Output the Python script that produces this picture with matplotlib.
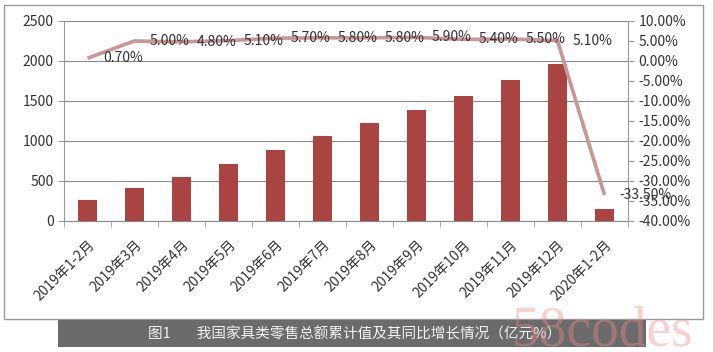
import matplotlib
matplotlib.use("Agg")
import matplotlib.pyplot as plt
from matplotlib.patches import Rectangle
from matplotlib.ticker import FuncFormatter, MultipleLocator, FixedLocator
import numpy as np

plt.rcParams['font.family'] = ['Noto Sans CJK SC', 'DejaVu Sans']

categories = ["2019年1-2月", "2019年3月", "2019年4月", "2019年5月", "2019年6月", "2019年7月",
              "2019年8月", "2019年9月", "2019年10月", "2019年11月", "2019年12月", "2020年1-2月"]
retail_values = [262, 408, 550, 712, 891, 1062, 1221, 1387, 1562, 1758, 1966, 146]
growth_pct = [0.70, 5.00, 4.80, 5.10, 5.70, 5.80, 5.80, 5.90, 5.40, 5.50, 5.10, -33.50]
caption = "图1        我国家具类零售总额累计值及其同比增长情况（亿元%）"

W, H = 713, 352
fig = plt.figure(figsize=(W / 100, H / 100), dpi=100)
fig.patch.set_facecolor("white")

# outer border
fig.add_artist(Rectangle((4 / W, 1 - 319 / H), 699 / W, 314 / H, transform=fig.transFigure,
                         fill=False, edgecolor="#9a9a9a", lw=1.0))

ax = fig.add_axes([64 / W, 1 - 221 / H, (628 - 64) / W, 200 / H])
x = np.arange(len(categories))
ax.bar(x, retail_values, width=0.39, color="#a94442", zorder=3)
ax.set_xlim(-0.5, len(categories) - 0.5)
ax.set_ylim(0, 2500)
ax.yaxis.set_major_locator(MultipleLocator(500))
ax.grid(axis="y", color="#8a8a8a", lw=0.8, zorder=0)
ax.set_axisbelow(True)
for s in ["top", "right"]:
    ax.spines[s].set_visible(False)
ax.spines["left"].set_color("#9a9a9a")
ax.spines["bottom"].set_color("#8a8a8a")
ax.tick_params(axis="y", labelsize=10, colors="#333333", length=4, direction="out")
ax.tick_params(axis="y", color="#9a9a9a")
ax.set_xticks(x)
ax.set_xticklabels(categories, rotation=45, ha="right", rotation_mode="anchor",
                   fontsize=10, color="#333333")
ax.tick_params(axis="x", which="major", length=0, pad=12)
ax.xaxis.set_minor_locator(FixedLocator(np.arange(-0.5, len(categories), 1.0)))
ax.tick_params(axis="x", which="minor", length=4, color="#9a9a9a")

ax2 = ax.twinx()
ax2.set_ylim(-40, 10)
ax2.yaxis.set_major_locator(MultipleLocator(5))
ax2.yaxis.set_major_formatter(FuncFormatter(lambda v, p: f"{v:.2f}%"))
for s in ["top", "left", "bottom"]:
    ax2.spines[s].set_visible(False)
ax2.spines["right"].set_color("#9a9a9a")
ax2.tick_params(axis="y", labelsize=10, colors="#333333", length=4, direction="out")
ax2.tick_params(axis="y", color="#9a9a9a")
ax2.plot(x, growth_pct, color="#cc9595", lw=2.6, solid_capstyle="butt", zorder=4)
for xi, v in zip(x, growth_pct):
    ax2.annotate(f"{v:.2f}%", (xi, v), xytext=(11, 0), textcoords="offset points",
                 ha="left", va="center", fontsize=10, color="#333333", zorder=5)

# caption banner
fig.add_artist(Rectangle((58 / W, 1 - 347 / H), (646 - 58) / W, 27 / H, transform=fig.transFigure,
                         facecolor="#6b6b6b", edgecolor="none"))
fig.text(148 / W, 1 - 334 / H, caption, fontsize=10.5, color="#f2f2f2", ha="left", va="center")

# watermark
fig.text(512 / W, 1 - 346 / H, "58codes", fontsize=40, color="#f08a8a", alpha=0.4,
         family="Liberation Serif", ha="left", va="baseline")

fig.savefig("out.png", dpi=100)
